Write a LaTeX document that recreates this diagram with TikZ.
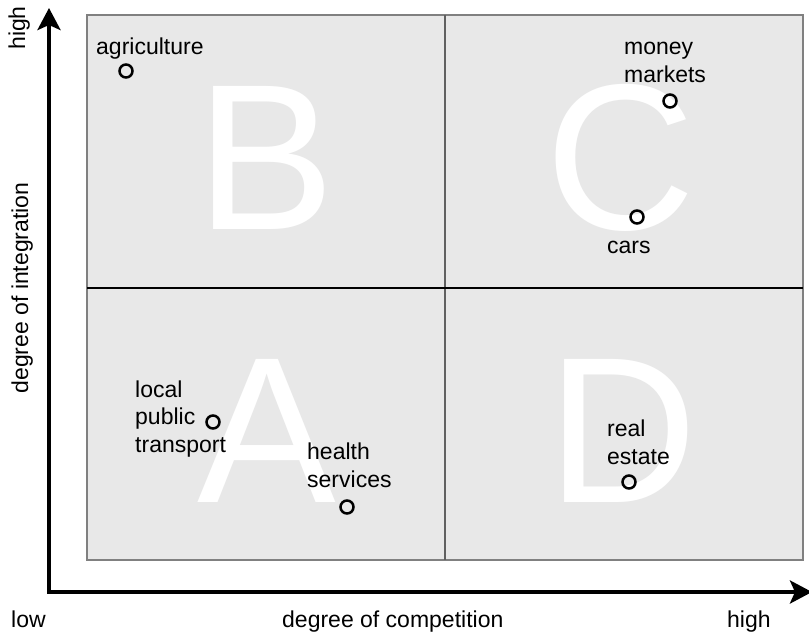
\documentclass[tikz,border=0pt]{standalone}
\usepackage{fontspec}
\setmainfont{Liberation Sans}
\usetikzlibrary{arrows.meta}
\definecolor{panel}{HTML}{E8E8E8}
\definecolor{rim}{HTML}{808080}
\definecolor{divider}{HTML}{606060}
\begin{document}
\begin{tikzpicture}[x=1pt,y=-1pt,
  lbl/.style={font=\fontsize{23}{27.5}\selectfont, inner sep=0pt, align=left, anchor=base west},
  axislbl/.style={font=\fontsize{23}{27.5}\selectfont, inner sep=0pt},
  dot/.style={circle, draw=black, line width=2.5pt, minimum size=13pt, inner sep=0pt},
  big/.style={font=\fontsize{208}{208}\selectfont, text=white, inner sep=0pt, anchor=base},
  axisline/.style={line width=4pt, line join=miter,
    {Stealth[length=22pt,width=23pt,inset=5pt]}-{Stealth[length=22pt,width=23pt,inset=5pt]}}]
\useasboundingbox (0,0) rectangle (809,634);
% panel
\draw[rim, fill=panel, line width=1.5pt] (87,15) rectangle (803,560);
% big letters
\node[big] (B) at (266,229) {B};
\node[big] (C) at (621,229) {C};
\node[big] (A) at (267,502) {A};
\node[big] (D) at (623,502) {D};
% dividers
\draw[divider, line width=2pt] (445,15) -- (445,560);
\draw[black, line width=1.5pt] (87,288) -- (803,288);
% axes
\coordinate (ytip) at (49,8);
\coordinate (origin) at (49,592);
\coordinate (xtip) at (812,592);
\draw[axisline] (ytip) -- (origin) -- (xtip);
% axis labels
\node[axislbl, rotate=90, anchor=base] (yhigh) at (25,28) {high};
\node[axislbl, rotate=90, anchor=base] (ylab) at (28,288) {degree of integration};
\node[axislbl, anchor=base west] (xlow) at (11,627) {low};
\node[axislbl, anchor=base west] (xlab) at (282,627) {degree of competition};
\node[axislbl, anchor=base west] (xhigh) at (727,627) {high};
% items (base anchor = baseline of the last line)
\node[lbl] (tagr) at (96,55) {agriculture};
\node[dot] (pagr) at (126,71) {};
\node[lbl] (tmon) at (624,82) {money\\markets};
\node[dot] (pmon) at (670,101) {};
\node[lbl] (tcar) at (607,253) {cars};
\node[dot] (pcar) at (637,217) {};
\node[lbl] (tloc) at (135,452) {local\\public\\transport};
\node[dot] (ploc) at (213,422) {};
\node[lbl] (thea) at (307,487) {health\\services};
\node[dot] (phea) at (347,507) {};
\node[lbl] (trea) at (607,464) {real\\estate};
\node[dot] (prea) at (629,482) {};
\end{tikzpicture}
\end{document}
